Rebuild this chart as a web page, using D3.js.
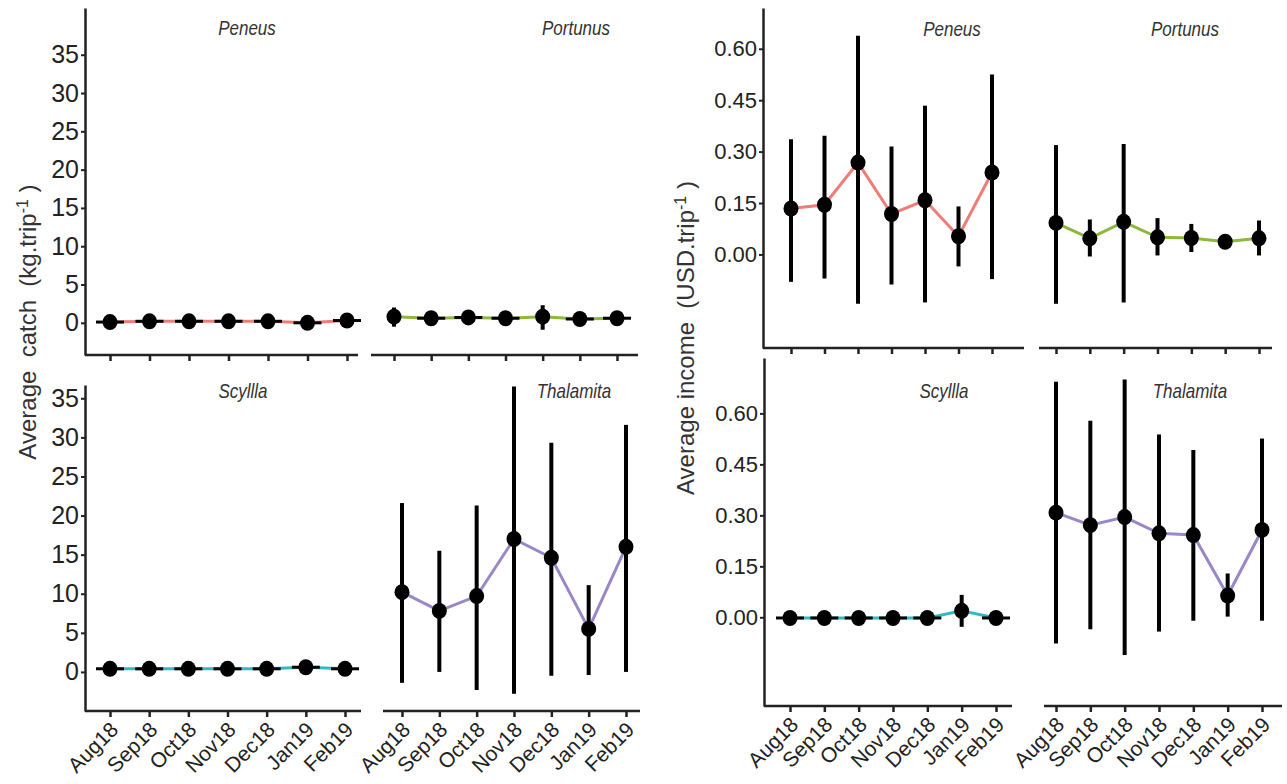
<!DOCTYPE html>
<html>
<head>
<meta charset="utf-8">
<script src="https://cdn.jsdelivr.net/npm/d3@7"></script>
<style>
  body { margin: 0; background: #fff; }
  text { font-family: "Liberation Sans", Arial, sans-serif; }
</style>
</head>
<body>
<div id="chart"></div>
<script>
const months = ["Aug18", "Sep18", "Oct18", "Nov18", "Dec18", "Jan19", "Feb19"];
const species = ["Peneus", "Portunus", "Scyllla", "Thalamita"];
const speciesColors = ["#ee7d78", "#8cb83c", "#33b9c6", "#9a88c6"];
const catchTicks = [0, 5, 10, 15, 20, 25, 30, 35];
const incomeTicks = [0, 0.15, 0.30, 0.45, 0.60];

// each entry: [mean, lower, upper]
const peneusCatch = [[0.1, -0.1, 0.3], [0.2, 0.0, 0.4], [0.2, 0.0, 0.4], [0.2, 0.0, 0.4], [0.2, 0.0, 0.4], [0.0, -0.2, 0.2], [0.3, 0.1, 0.5]];
const portunusCatch = [[0.8, -0.5, 2.0], [0.6, 0.4, 0.8], [0.7, 0.5, 0.9], [0.6, 0.4, 0.8], [0.8, -0.9, 2.3], [0.5, 0.3, 0.7], [0.6, 0.4, 0.8]];
const scyllaCatch = [[0.4, 0.2, 0.6], [0.4, 0.2, 0.6], [0.4, 0.2, 0.6], [0.4, 0.2, 0.6], [0.4, 0.2, 0.6], [0.6, 0.4, 0.8], [0.4, 0.2, 0.6]];
const thalamitaCatch = [[10.2, -1.4, 21.6], [7.8, 0.0, 15.5], [9.7, -2.3, 21.3], [17.0, -2.8, 36.5], [14.6, -0.5, 29.3], [5.5, -0.4, 11.1], [16.0, 0.0, 31.6]];

const peneusIncome = [[0.134, -0.080, 0.336], [0.145, -0.070, 0.346], [0.268, -0.144, 0.638], [0.118, -0.088, 0.315], [0.158, -0.140, 0.434], [0.053, -0.035, 0.140], [0.239, -0.072, 0.525]];
const portunusIncome = [[0.092, -0.144, 0.319], [0.047, -0.006, 0.102], [0.095, -0.140, 0.322], [0.050, -0.003, 0.106], [0.048, 0.007, 0.089], [0.037, 0.030, 0.044], [0.047, -0.003, 0.099]];
const scyllaIncome = [[-0.002, -0.006, 0.002], [-0.002, -0.006, 0.002], [-0.002, -0.006, 0.002], [-0.002, -0.006, 0.002], [-0.002, -0.006, 0.002], [0.019, -0.028, 0.066], [-0.002, -0.006, 0.002]];
const thalamitaIncome = [[0.308, -0.077, 0.693], [0.271, -0.035, 0.578], [0.295, -0.111, 0.700], [0.247, -0.042, 0.538], [0.242, -0.010, 0.492], [0.064, 0.002, 0.129], [0.257, -0.010, 0.526]];

const width = 1287;
const height = 784;

const svg = d3.select("#chart").append("svg")
    .attr("width", width)
    .attr("height", height);

// facet layout (pixel boxes hand-fitted to the figure)
const panels = [
    { data: peneusCatch, sp: 0, ax: [85, 358], pts: [110, 347], ys: [8, 355], dom: [-4.2, 41.1], title: [247, 35], yAxis: "catch", labels: false, flat: true },
    { data: portunusCatch, sp: 1, ax: [371, 638], pts: [394, 617], ys: [8, 355], dom: [-4.2, 41.1], title: [576, 35], yAxis: null, labels: false, flat: true },
    { data: scyllaCatch, sp: 2, ax: [85, 361], pts: [110, 345], ys: [385, 711], dom: [-5.0, 36.7], title: [243, 398], yAxis: "catch", labels: true, flat: true },
    { data: thalamitaCatch, sp: 3, ax: [383, 640], pts: [402, 626], ys: [385, 711], dom: [-5.0, 36.7], title: [574, 398], yAxis: null, labels: true, flat: false },
    { data: peneusIncome, sp: 0, ax: [763, 1024], pts: [791, 992], ys: [8, 348], dom: [-0.273, 0.719], title: [952, 36], yAxis: "income", labels: false, flat: false },
    { data: portunusIncome, sp: 1, ax: [1039, 1272], pts: [1056, 1259], ys: [8, 348], dom: [-0.273, 0.719], title: [1185, 36], yAxis: null, labels: false, flat: false },
    { data: scyllaIncome, sp: 2, ax: [764, 1012], pts: [790, 996], ys: [358, 706], dom: [-0.261, 0.763], title: [944, 398], yAxis: "income", labels: true, flat: true },
    { data: thalamitaIncome, sp: 3, ax: [1044, 1282], pts: [1056, 1262], ys: [358, 706], dom: [-0.261, 0.763], title: [1190, 398], yAxis: null, labels: true, flat: false }
];

panels.forEach(p => drawPanel(p));

function drawPanel(p) {
    const g = svg.append("g");
    const x = d3.scalePoint().domain(months).range(p.pts);
    const y = d3.scaleLinear().domain(p.dom).range([p.ys[1], p.ys[0]]);
    const color = speciesColors[p.sp];
    const span = p.dom[1] - p.dom[0];

    // x axis line + ticks
    g.append("line")
        .attr("x1", p.ax[0]).attr("x2", p.ax[1])
        .attr("y1", p.ys[1]).attr("y2", p.ys[1])
        .style("stroke", "#222")
        .style("stroke-width", 2.5);

    const xAxis = g.append("g")
        .attr("transform", `translate(0, ${p.ys[1]})`)
        .call(d3.axisBottom(x).tickSize(6).tickSizeOuter(0).tickFormat(d => p.labels ? d : ""));
    xAxis.select(".domain").remove();
    xAxis.selectAll(".tick line").style("stroke", "#222").style("stroke-width", 2.5);
    xAxis.selectAll(".tick text")
        .attr("x", 0).attr("y", 0).attr("dy", 0)
        .attr("text-anchor", "end")
        .attr("transform", "translate(9, 20) rotate(-45)")
        .style("font-size", "21px")
        .style("fill", "#222");

    // y axis on the left column only
    if (p.yAxis) {
        const ticks = p.yAxis === "catch" ? catchTicks : incomeTicks;
        const yAxis = g.append("g")
            .attr("transform", `translate(${p.ax[0]}, 0)`)
            .call(d3.axisLeft(y).tickValues(ticks).tickSize(4).tickSizeOuter(0).tickPadding(2)
                .tickFormat(d => p.yAxis === "catch" ? d : d3.format(".2f")(d)));
        yAxis.select(".domain").style("stroke", "#222").style("stroke-width", 2.5);
        yAxis.selectAll(".tick line").style("stroke", "#222").style("stroke-width", 2);
        yAxis.selectAll(".tick text")
            .style("font-size", p.yAxis === "catch" ? "25px" : "22px")
            .style("fill", "#222");
    }

    // facet title (condensed italic)
    g.append("text")
        .attr("transform", `translate(${p.title[0]}, ${p.title[1]}) scale(0.85, 1)`)
        .attr("text-anchor", "middle")
        .style("font-style", "italic")
        .style("font-size", "20px")
        .style("fill", "#333")
        .text(species[p.sp]);

    // series line
    const line = d3.line()
        .x((d, i) => x(months[i]))
        .y(d => y(d[0]));
    g.append("path")
        .datum(p.data)
        .attr("d", line)
        .style("fill", "none")
        .style("stroke", color)
        .style("stroke-width", 3);

    // black short bars where the range collapses onto the mean
    if (p.flat) {
        g.selectAll(".flat")
            .data(p.data.filter(d => (d[2] - d[1]) / span < 0.03))
            .enter().append("line")
            .attr("x1", d => x(months[p.data.indexOf(d)]) - 14)
            .attr("x2", d => x(months[p.data.indexOf(d)]) + 14)
            .attr("y1", d => y(d[0]))
            .attr("y2", d => y(d[0]))
            .style("stroke", "#000")
            .style("stroke-width", 3);
    }

    // error bars
    g.selectAll(".err")
        .data(p.data)
        .enter().append("line")
        .attr("x1", (d, i) => x(months[i]))
        .attr("x2", (d, i) => x(months[i]))
        .attr("y1", d => y(d[1]))
        .attr("y2", d => y(d[2]))
        .style("stroke", "#000")
        .style("stroke-width", 4);

    // points
    g.selectAll(".pt")
        .data(p.data)
        .enter().append("ellipse")
        .attr("cx", (d, i) => x(months[i]))
        .attr("cy", d => y(d[0]))
        .attr("rx", 7.5)
        .attr("ry", 8)
        .style("fill", "#000");
}

// y axis titles
function axisTitle(xPos, yPos, main, unit) {
    const t = svg.append("text")
        .attr("transform", `translate(${xPos}, ${yPos}) rotate(-90)`)
        .attr("text-anchor", "middle")
        .style("font-size", "24px")
        .style("fill", "#333")
        .attr("xml:space", "preserve");
    t.append("tspan").text(main + "(" + unit);
    t.append("tspan").attr("baseline-shift", "super").style("font-size", "16px").text("-1");
    t.append("tspan").text(" )");
}

axisTitle(36, 322, "Average  catch  ", "kg.trip");
axisTitle(694, 338, "Average income  ", "USD.trip");
</script>
</body>
</html>
